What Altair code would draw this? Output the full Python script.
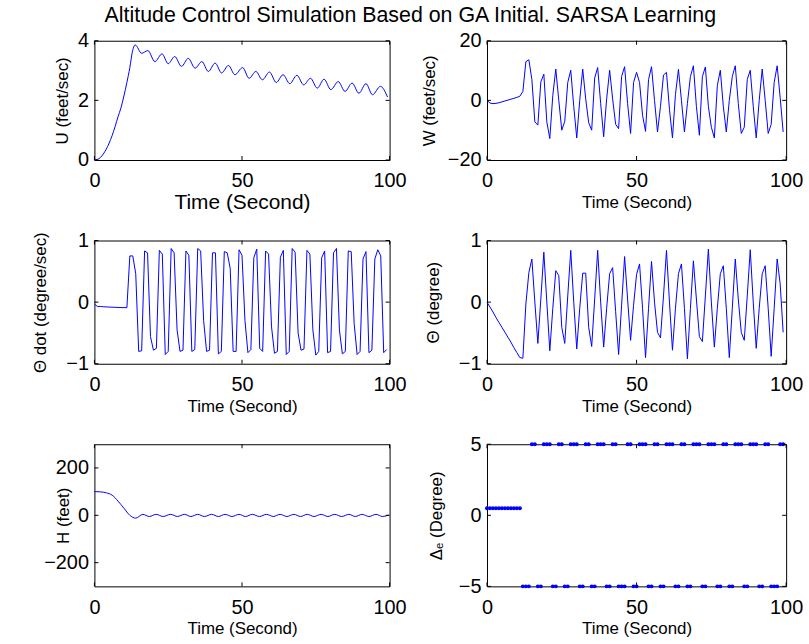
import altair as alt
import pandas as pd

FONT = "Liberation Sans"
BLUE = "#0000ff"

# ---------------- data ----------------
TIME = list(range(100))
X_TICKS = [0, 50, 100]

U_T = [0, 1, 2, 3, 4, 5, 6, 7, 8, 9, 10, 11, 12, 12.8, 13.8, 16, 18.1, 20.5, 22.9, 25, 27.2, 29.5,
       31.8, 34.1, 36.4, 38.6, 40.9, 43.1, 45.4, 47.6, 50.2, 52.4, 54.7, 56.9, 59.3, 61.6, 63.9,
       66.2, 68.6, 70.9, 73.2, 75.5, 77.8, 80.1, 82.6, 84.9, 87.3, 89.6, 92.0, 94.2, 96.9, 99.3]
U_V = [0, 0.02, 0.08, 0.2, 0.36, 0.57, 0.82, 1.12, 1.45, 1.75, 2.15, 2.6, 3.1, 3.6, 3.86, 3.58, 3.67,
       3.30, 3.56, 3.23, 3.47, 3.14, 3.41, 3.08, 3.30, 2.97, 3.25, 2.92, 3.17, 2.86, 3.10, 2.74, 2.97,
       2.69, 2.95, 2.60, 2.86, 2.56, 2.84, 2.52, 2.74, 2.41, 2.71, 2.36, 2.63, 2.30, 2.58, 2.24, 2.56,
       2.19, 2.47, 2.11]

W_V = [0.0, -0.9, -1.1, -1.0, -0.8, -0.5, -0.2, 0.1, 0.4, 0.7, 1.0, 1.4, 3.0, 13.0, 13.6, 7.0, -7.2,
       -8.3, 6.2, 8.8, -7.2, -12.8, 1.7, 10.5, 0.0, -10.0, -7.0, 6.0, 10.1, -2.0, -12.6, 0.0, 10.5,
       0.5, -7.5, -10.0, 7.5, 11.0, -1.0, -12.2, 0.5, 10.1, 0.5, -8.0, -9.5, 8.0, 11.3, -1.0, -11.1,
       6.0, 9.4, 6.0, -5.0, -10.4, 7.0, 11.3, 0.0, -10.6, -2.0, 8.5, 9.4, -3.0, -12.6, 2.0, 10.4,
       0.0, -10.6, -1.0, 8.0, 11.6, -2.0, -11.7, 8.0, 11.2, -2.0, -9.0, -12.6, 5.0, 10.1, -2.0,
       -10.6, 0.0, 8.0, 11.6, -1.0, -11.1, -9.0, 7.0, 10.1, -2.0, -12.6, 0.0, 10.5, 0.0, -11.1,
       -8.0, 6.0, 11.6, 1.0, -10.6]

THETA_DOT = [-0.03, -0.07, -0.07, -0.075, -0.078, -0.08, -0.082, -0.084, -0.086, -0.088, -0.09, -0.09,
             0.75, 0.75, 0.46, -0.80, -0.79,
             0.83, 0.80, -0.56, -0.78, -0.75,
             0.84, 0.78, -0.85, -0.80,
             0.87, 0.80, -0.45, -0.80, -0.78,
             0.83, 0.76, -0.80, -0.77,
             0.87, 0.83, -0.30, -0.80, -0.78,
             0.80, 0.80, -0.84, -0.80,
             0.82, 0.80, 0.55, -0.80, -0.80,
             0.85, 0.76, -0.30, -0.82, -0.77,
             0.72, 0.86, -0.75, -0.80,
             0.83, 0.78, -0.40, -0.83, -0.80,
             0.73, 0.84, -0.85, -0.80,
             0.87, 0.81, -0.50, -0.78, -0.76,
             0.84, 0.78, -0.45, -0.86, -0.80,
             0.72, 0.83, -0.82, -0.80,
             0.80, 0.87, -0.45, -0.84, -0.80,
             0.83, 0.82, -0.35, -0.85, -0.80,
             0.70, 0.82, -0.82, -0.78,
             0.70, 0.85, 0.75, -0.82, -0.77]

THETA = [0.0, -0.08, -0.16, -0.25, -0.33, -0.41, -0.49, -0.57, -0.65, -0.74, -0.82, -0.90, -0.91,
         -0.03, 0.48, 0.70, 0.0, -0.67, 0.05, 0.81, 0.0, -0.79, -0.1, 0.51, 0.43, -0.41, -0.67, 0.1,
         0.84, 0.0, -0.76, -0.1, 0.47, 0.47, -0.41, -0.72, 0.05, 0.84, 0.0, -0.73, -0.1, 0.46, 0.56,
         -0.15, -0.85, -0.05, 0.74, 0.05, -0.62, -0.05, 0.45, 0.62, -0.1, -0.90, -0.1, 0.66, 0.0,
         -0.49, -0.58, 0.1, 0.84, 0.0, -0.78, -0.1, 0.46, 0.62, -0.1, -0.92, -0.1, 0.67, 0.05, -0.56,
         -0.64, 0.1, 0.86, 0.0, -0.73, -0.1, 0.46, 0.59, -0.1, -0.90, -0.1, 0.70, 0.05, -0.49, -0.62,
         0.1, 0.85, 0.0, -0.75, -0.1, 0.46, 0.59, -0.1, -0.88, -0.1, 0.70, 0.30, -0.49]

H_T = [0, 2, 4, 6, 8, 10, 12, 14, 16.4, 18.6, 20.9, 23.3, 25.8, 28.1, 30.5, 32.7, 35.0, 37.3, 39.7,
       42.0, 44.3, 46.6, 49.0, 51.2, 53.5, 55.9, 58.3, 60.6, 62.9, 65.2, 67.6, 69.8, 72.1, 74.4, 76.8,
       79.1, 81.4, 83.8, 86.2, 88.4, 90.7, 93.0, 95.4, 97.6, 99.7]
H_V = [100, 99, 95, 85, 60, 30, 0, -12, 4, -5, 4, -5, 4, -5, 4, -5, 4, -5, 4, -5, 4, -5, 4, -5, 4,
       -5, 4, -5, 4, -5, 4, -5, 4, -5, 4, -5, 4, -5, 4, -5, 4, -5, 4, -5, 1]

DELTA_E = [0.5] * 12 + [
    -5, -5, -5, 5, 5,
    -5, -5, 5, 5, 5,
    -5, -5, 5, 5,
    -5, -5, 5, 5, 5,
    -5, -5, 5, 5,
    -5, -5, 5, 5, 5,
    -5, -5, 5, 5,
    -5, -5, -5, 5, 5,
    -5, -5, 5, 5, 5,
    -5, -5, 5, 5,
    -5, -5, 5, 5, 5,
    -5, -5, 5, 5,
    -5, -5, 5, 5, 5,
    -5, -5, 5, 5, 5,
    -5, -5, 5, 5,
    -5, -5, 5, 5, 5,
    -5, -5, 5, 5, 5,
    -5, -5, 5, 5,
    -5, -5, -5, 5, 5]

TITLE = "Altitude Control Simulation Based on GA Initial. SARSA Learning"

LABEL_EXPR = "datum.value < 0 ? '\u2212' + format(-datum.value, 'd') : format(datum.value, 'd')"


def panel(t, v, ydomain, yticks, w, h, ytitle, ytitle_x, xtitle_size, kind="line", interp="linear"):
    df = pd.DataFrame({"t": t, "v": v})
    xscale = alt.Scale(domain=[0, 100], nice=False, zero=False)
    yscale = alt.Scale(domain=ydomain, nice=False, zero=False)
    x = alt.X("t:Q", scale=xscale,
              axis=alt.Axis(values=X_TICKS, labelExpr=LABEL_EXPR, labelOverlap=False,
                            title="Time (Second)", titleFontSize=xtitle_size,
                            titleBaseline="top", titleY=48 - 0.79 * xtitle_size, titleX=w / 2))
    y = alt.Y("v:Q", scale=yscale,
              axis=alt.Axis(values=yticks, labelExpr=LABEL_EXPR, labelOverlap=False, title=ytitle,
                            titleAngle=270, titleBaseline="alphabetic", titleAlign="center",
                            titleX=ytitle_x, titleY=h / 2))
    if kind == "line":
        main = alt.Chart(df).mark_line(color=BLUE, strokeWidth=1, interpolate=interp).encode(x=x, y=y)
    else:
        main = alt.Chart(df).mark_point(color=BLUE, filled=True, size=16, opacity=1).encode(x=x, y=y)
    xt = pd.DataFrame({"t": X_TICKS})
    yt = pd.DataFrame({"v": yticks})
    xs = alt.X("t:Q", scale=xscale, title="Time (Second)")
    ys = alt.Y("v:Q", scale=yscale, title=ytitle)
    tb = alt.Chart(xt).mark_rule(color="black", strokeWidth=1).encode(x=xs, y=alt.value(h), y2=alt.value(h - 4))
    tt = alt.Chart(xt).mark_rule(color="black", strokeWidth=1).encode(x=xs, y=alt.value(0), y2=alt.value(4))
    tl = alt.Chart(yt).mark_rule(color="black", strokeWidth=1).encode(y=ys, x=alt.value(0), x2=alt.value(4))
    tr = alt.Chart(yt).mark_rule(color="black", strokeWidth=1).encode(y=ys, x=alt.value(w - 4), x2=alt.value(w))
    return alt.layer(main, tb, tt, tl, tr).properties(width=w, height=h)


WL, WR = 297, 301
p1 = panel(U_T, U_V, [0, 4], [0, 2, 4], WL, 120, "U (feet/sec)", -27, 21, interp="monotone")
p2 = panel(TIME, W_V, [-20, 20], [-20, 0, 20], WR, 120, "W (feet/sec)", -53, 17)
p3 = panel(TIME, THETA_DOT, [-1, 1], [-1, 0, 1], WL, 124, "Θ dot (degree/sec)", -49, 17)
p4 = panel(TIME, THETA, [-1, 1], [-1, 0, 1], WR, 124, "Θ (degree)", -49, 17)
p5 = panel(H_T, H_V, [-300, 300], [-200, 0, 200], WL, 143, "H (feet)", -26, 17, interp="monotone")
p6 = panel(TIME, DELTA_E, [-5, 5], [-5, 0, 5], WR, 143, "Δₑ (Degree)", -46, 17, kind="point")

chart = alt.concat(p1, p2, p3, p4, p5, p6, columns=2, spacing={"row": 81, "column": 98},
                   bounds="flush").properties(
    title=alt.TitleParams(TITLE, fontSize=21.5, font=FONT, fontWeight="normal", color="black",
                          anchor="middle", dx=-7),
    padding={"left": 31, "top": 3, "right": 5, "bottom": 5},
    background="white",
).configure_view(stroke="black", strokeWidth=1).configure_axis(
    labelFont=FONT, labelFontSize=20, labelColor="black", titleFont=FONT, titleFontWeight="normal",
    titleColor="black", titleFontSize=17, domain=False, ticks=False, grid=False, labelOverlap=False,
).configure_axisX(labelFlush=False, labelPadding=11).configure_axisY(labelPadding=6, labelFlush=False)

chart.save("out.html", embed_options={"renderer": "svg", "actions": False})
